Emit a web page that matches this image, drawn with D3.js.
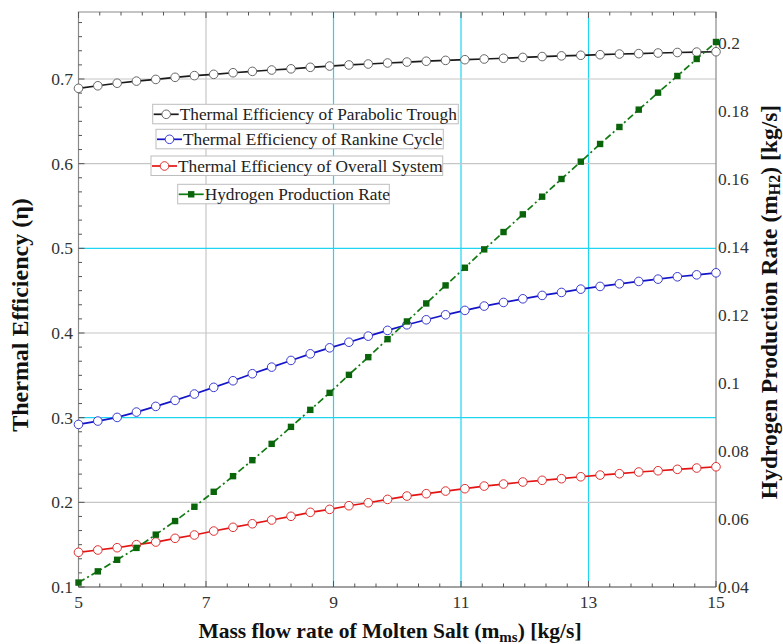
<!DOCTYPE html>
<html>
<head>
<meta charset="utf-8">
<script src="https://cdn.jsdelivr.net/npm/d3@7"></script>
<style>
  body { margin: 0; background: #fff; }
  text { font-family: "Liberation Serif", "Times New Roman", serif; }
</style>
</head>
<body>
<svg id="chart" width="783" height="644"></svg>
<script>
// mass flow rate of molten salt [kg/s]
const massFlow = [5.000, 5.303, 5.606, 5.909, 6.212, 6.515, 6.818, 7.121, 7.424, 7.727,
  8.030, 8.333, 8.636, 8.939, 9.242, 9.545, 9.848, 10.152, 10.455, 10.758,
  11.061, 11.364, 11.667, 11.970, 12.273, 12.576, 12.879, 13.182, 13.485, 13.788,
  14.091, 14.394, 14.697, 15.000];

const troughEff = [0.689, 0.692, 0.695, 0.6975, 0.6995, 0.702, 0.704, 0.7055, 0.7074, 0.709,
  0.7106, 0.712, 0.7138, 0.7153, 0.7166, 0.7177, 0.7189, 0.72, 0.721, 0.722,
  0.7228, 0.7236, 0.7245, 0.7255, 0.7265, 0.7273, 0.728, 0.7287, 0.7295, 0.73,
  0.7307, 0.7313, 0.7318, 0.7322];

const rankineEff = [0.292, 0.296, 0.3003, 0.3066, 0.3133, 0.3204, 0.3279, 0.3358, 0.3436, 0.3519,
  0.3597, 0.3676, 0.3754, 0.3825, 0.3891, 0.3963, 0.4031, 0.4097, 0.4156, 0.4215,
  0.4267, 0.4318, 0.4361, 0.4404, 0.4444, 0.4479, 0.4518, 0.455, 0.4581, 0.4609,
  0.4636, 0.4664, 0.4687, 0.4711];

const overallEff = [0.141, 0.1437, 0.1464, 0.150, 0.1531, 0.1575, 0.1614, 0.1661, 0.1705, 0.1747,
  0.1791, 0.1835, 0.1882, 0.1917, 0.196, 0.1995, 0.2035, 0.2074, 0.2102, 0.2133,
  0.2161, 0.2192, 0.2216, 0.224, 0.226, 0.2279, 0.2302, 0.2322, 0.2338, 0.2358,
  0.2373, 0.239, 0.2405, 0.242];

// hydrogen production rate [kg/s], right axis
const h2Rate = [0.0413, 0.0446, 0.048, 0.0515, 0.0554, 0.0594, 0.0636, 0.068, 0.0726, 0.0773,
  0.0821, 0.0871, 0.0921, 0.0971, 0.1024, 0.1076, 0.1129, 0.1181, 0.1234, 0.1287,
  0.1339, 0.1393, 0.1444, 0.1496, 0.1548, 0.16, 0.1651, 0.1703, 0.1753, 0.1804,
  0.1854, 0.1903, 0.1953, 0.2003];

const xTicks = [5, 7, 9, 11, 13, 15];
const leftTicks = [0.1, 0.2, 0.3, 0.4, 0.5, 0.6, 0.7];
const rightTicks = [0.04, 0.06, 0.08, 0.1, 0.12, 0.14, 0.16, 0.18, 0.2];
const legendNames = ["Thermal Efficiency of Parabolic Trough", "Thermal Efficiency of Rankine Cycle",
  "Thermal Efficiency of Overall System", "Hydrogen Production Rate"];

const svg = d3.select("#chart");
const plotL = 78.5, plotR = 716, plotT = 12, plotB = 587;

const x = d3.scaleLinear().domain([5, 15]).range([plotL, plotR]);
const yL = d3.scaleLinear().domain([0.1, 0.7]).range([plotB, 79]);
const yR = d3.scaleLinear().domain([0.04, 0.2]).range([plotB, 43]);

const gray = "#c6c6c6", cyan = "#1fd6f2";

// grid lines
xTicks.slice(1, -1).forEach(v => {
  svg.append("line")
    .attr("x1", x(v)).attr("x2", x(v)).attr("y1", plotT).attr("y2", plotB)
    .attr("stroke", v == 7 ? gray : cyan).attr("stroke-width", 1.2);
});
leftTicks.slice(1).forEach(v => {
  svg.append("line")
    .attr("x1", plotL).attr("x2", plotR).attr("y1", yL(v)).attr("y2", yL(v))
    .attr("stroke", (v == 0.3 || v == 0.5) ? cyan : gray).attr("stroke-width", 1.2);
});

// frame
svg.append("path")
  .attr("d", `M${plotL},${plotB}V${plotT}H${plotR}V${plotB}`)
  .attr("fill", "none").attr("stroke", "#8a8a8a").attr("stroke-width", 1.2);
svg.append("line").attr("x1", plotL).attr("x2", plotR).attr("y1", plotB).attr("y2", plotB)
  .attr("stroke", "#444").attr("stroke-width", 1.2);

// ticks (inward)
const xMinor = d3.range(5, 15.001, 1 / 3);
const ticks = svg.append("g").attr("stroke", "#555").attr("stroke-width", 1);
xMinor.forEach((v, i) => {
  const len = i % 6 == 0 ? 6 : 3.5;
  ticks.append("line").attr("x1", x(v)).attr("x2", x(v)).attr("y1", plotB).attr("y2", plotB - len);
  ticks.append("line").attr("x1", x(v)).attr("x2", x(v)).attr("y1", plotT).attr("y2", plotT + len);
});
const yMinor = d3.range(0.1, 0.7791, 0.1 / 6);
yMinor.forEach((v, i) => {
  const len = i % 6 == 0 ? 6 : 3.5;
  ticks.append("line").attr("x1", plotL).attr("x2", plotL + len).attr("y1", yL(v)).attr("y2", yL(v));
});

// tick labels
const labelStyle = s => s.attr("font-size", 17.5).attr("fill", "#333");
xTicks.forEach(v => {
  svg.append("text").attr("x", x(v)).attr("y", 608).attr("text-anchor", "middle")
    .call(labelStyle).text(v);
});
leftTicks.forEach(v => {
  svg.append("text").attr("x", 73).attr("y", yL(v)).attr("dy", "0.35em")
    .attr("text-anchor", "end").call(labelStyle).text(v);
});
rightTicks.forEach(v => {
  svg.append("text").attr("x", 718).attr("y", yR(v)).attr("dy", "0.35em")
    .call(labelStyle).text(v);
});

// axis titles
const xt = svg.append("text").attr("x", 390).attr("y", 638).attr("text-anchor", "middle")
  .attr("font-size", 21.5).attr("font-weight", "bold").attr("fill", "#111");
xt.append("tspan").text("Mass flow rate of Molten Salt (m");
xt.append("tspan").attr("font-size", 15).attr("dy", 4).text("ms");
xt.append("tspan").attr("dy", -4).text(") [kg/s]");

svg.append("text").attr("transform", "translate(28,315) rotate(-90)")
  .attr("text-anchor", "middle").attr("font-size", 24).attr("font-weight", "bold")
  .attr("fill", "#111").text("Thermal Efficiency (η)");

const rt = svg.append("text").attr("transform", "translate(777,302) rotate(-90)")
  .attr("text-anchor", "middle").attr("font-size", 23.5).attr("font-weight", "bold").attr("fill", "#111");
rt.append("tspan").text("Hydrogen Production Rate (m");
rt.append("tspan").attr("font-size", 16).attr("dy", 3).text("H2");
rt.append("tspan").attr("dy", -3).text(") [kg/s]");

// series
const series = [
  { values: troughEff, scale: yL, color: "#1a1a1a", mark: "#666", dash: null, square: false },
  { values: rankineEff, scale: yL, color: "#1414c8", mark: "#3a3ad0", dash: null, square: false },
  { values: overallEff, scale: yL, color: "#e41414", mark: "#e03030", dash: null, square: false },
  { values: h2Rate, scale: yR, color: "#127a12", mark: "#0a640a", dash: "7,3,2,3", square: true }
];

series.forEach(s => {
  const line = d3.line().x((d, i) => x(massFlow[i])).y(d => s.scale(d));
  svg.append("path").datum(s.values).attr("d", line)
    .attr("fill", "none").attr("stroke", s.color).attr("stroke-width", 1.7)
    .attr("stroke-dasharray", s.dash);
  const g = svg.append("g");
  if (s.square) {
    g.selectAll("rect").data(s.values).join("rect")
      .attr("x", (d, i) => x(massFlow[i]) - 3.2).attr("y", d => s.scale(d) - 3.2)
      .attr("width", 6.4).attr("height", 6.4).attr("fill", s.mark);
  } else {
    g.selectAll("circle").data(s.values).join("circle")
      .attr("cx", (d, i) => x(massFlow[i])).attr("cy", d => s.scale(d)).attr("r", 4.3)
      .attr("fill", "#fff").attr("stroke", s.mark).attr("stroke-width", 1);
  }
});

// legend boxes
const legendBoxes = [[152.7, 104.3, 305.6], [156, 129.3, 287.3], [151, 156, 291.7], [177.7, 184.3, 211.6]];
legendNames.forEach((name, i) => {
  const [bx, by, bw] = legendBoxes[i];
  const s = series[i];
  const g = svg.append("g").attr("transform", `translate(${bx},${by})`);
  g.append("rect").attr("width", bw).attr("height", 19.5)
    .attr("fill", "#fff").attr("stroke", "#bdbdbd").attr("stroke-width", 1);
  g.append("line").attr("x1", 1).attr("x2", 26).attr("y1", 10).attr("y2", 10)
    .attr("stroke", s.color).attr("stroke-width", 1.7);
  if (s.square) {
    g.append("rect").attr("x", 10.3).attr("y", 6.8).attr("width", 6.4).attr("height", 6.4).attr("fill", s.mark);
  } else {
    g.append("circle").attr("cx", 13.5).attr("cy", 10).attr("r", 4.3)
      .attr("fill", "#fff").attr("stroke", s.mark);
  }
  g.append("text").attr("x", 27).attr("y", 15.5).attr("font-size", 17.3).attr("fill", "#222").text(name);
});
</script>
</body>
</html>
